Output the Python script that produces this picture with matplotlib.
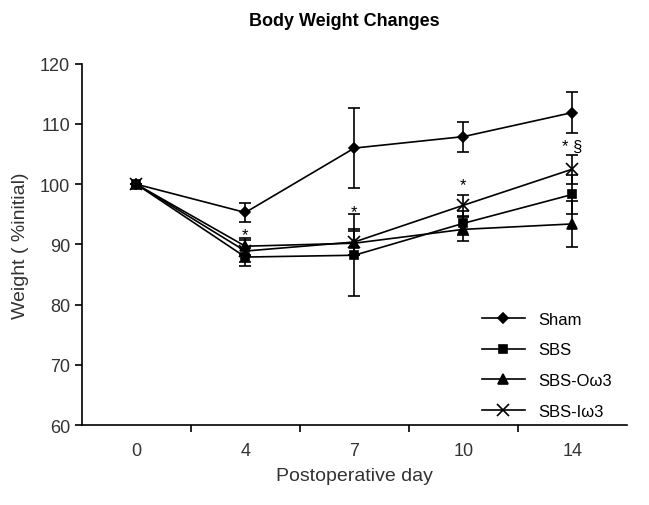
import matplotlib.pyplot as plt
from matplotlib.lines import Line2D
import numpy as np

plt.rcParams['font.family'] = ['Liberation Sans', 'DejaVu Sans']

days = ['0', '4', '7', '10', '14']
sham = [100, 95.3, 106.0, 107.9, 111.9]
sham_err = [0, 1.6, 6.6, 2.5, 3.4]
sbs = [100, 87.9, 88.2, 93.5, 98.3]
sbs_err = [0, 1.5, 6.8, 2.0, 3.3]
sbs_o = [100, 89.7, 90.2, 92.5, 93.4]
sbs_o_err = [0, 1.4, 2.0, 2.0, 3.8]
sbs_i = [100, 88.9, 90.4, 96.5, 102.5]
sbs_i_err = [0, 1.8, 2.2, 1.7, 2.4]
stars = ['', '*', '*', '*', '* §']
star_y = [0, 91.6, 95.5, 100.0, 106.3]

fig = plt.figure(figsize=(6.49, 5.06), dpi=100)
ax = fig.add_axes([0.126, 0.158, 0.84, 0.714])
x = np.arange(len(days))

series = [
    (sham, sham_err, 'D', 5, 'Sham', 3),
    (sbs, sbs_err, 's', 6, 'SBS', 4),
    (sbs_o, sbs_o_err, '^', 7, 'SBS-O\u03c93', 2),
    (sbs_i, sbs_i_err, 'x', 8, 'SBS-I\u03c93', 2),
]
handles = []
for vals, err, m, ms, lab, z in series:
    ax.errorbar(x, vals, yerr=err, color='black', marker=m, markersize=ms,
                linewidth=1.2, elinewidth=1.2, capsize=4, capthick=1.2,
                markeredgewidth=1.2, zorder=z)
    handles.append(Line2D([], [], color='black', marker=m, markersize=ms,
                          linewidth=1.2, markeredgewidth=1.2, label=lab))

for xi, s, yv in zip(x, stars, star_y):
    if s:
        ax.text(xi, yv, s, ha='center', va='center', fontsize=12)

ax.set_xlim(-0.5, 4.5)
ax.set_ylim(60, 120)
ax.set_yticks(range(60, 121, 10))
ax.set_xticks(x)
ax.set_xticklabels(days)
ax.set_xticks(np.arange(0.5, 4.5, 1), minor=True)
ax.tick_params(axis='x', which='major', length=0, pad=12, labelsize=13, colors='#333333')
ax.tick_params(axis='x', which='minor', length=5, width=1.2)
ax.tick_params(axis='y', length=5, width=1.2, labelsize=13, labelcolor='#333333')
ax.spines['top'].set_visible(False)
ax.spines['right'].set_visible(False)
ax.spines['left'].set_linewidth(1.2)
ax.spines['bottom'].set_linewidth(1.2)

ax.set_xlabel('Postoperative day', fontsize=14, color='#333333', labelpad=6)
ax.set_ylabel('Weight ( %initial)', fontsize=14, color='#333333', labelpad=8)
fig.suptitle('Body Weight Changes', fontsize=13, fontweight='bold', x=0.53, y=0.975)

ax.legend(handles=handles, loc='lower right', frameon=False, fontsize=12,
          handlelength=2.6, labelspacing=0.95, bbox_to_anchor=(1.0, -0.025))

fig.savefig('out.png', dpi=100)
